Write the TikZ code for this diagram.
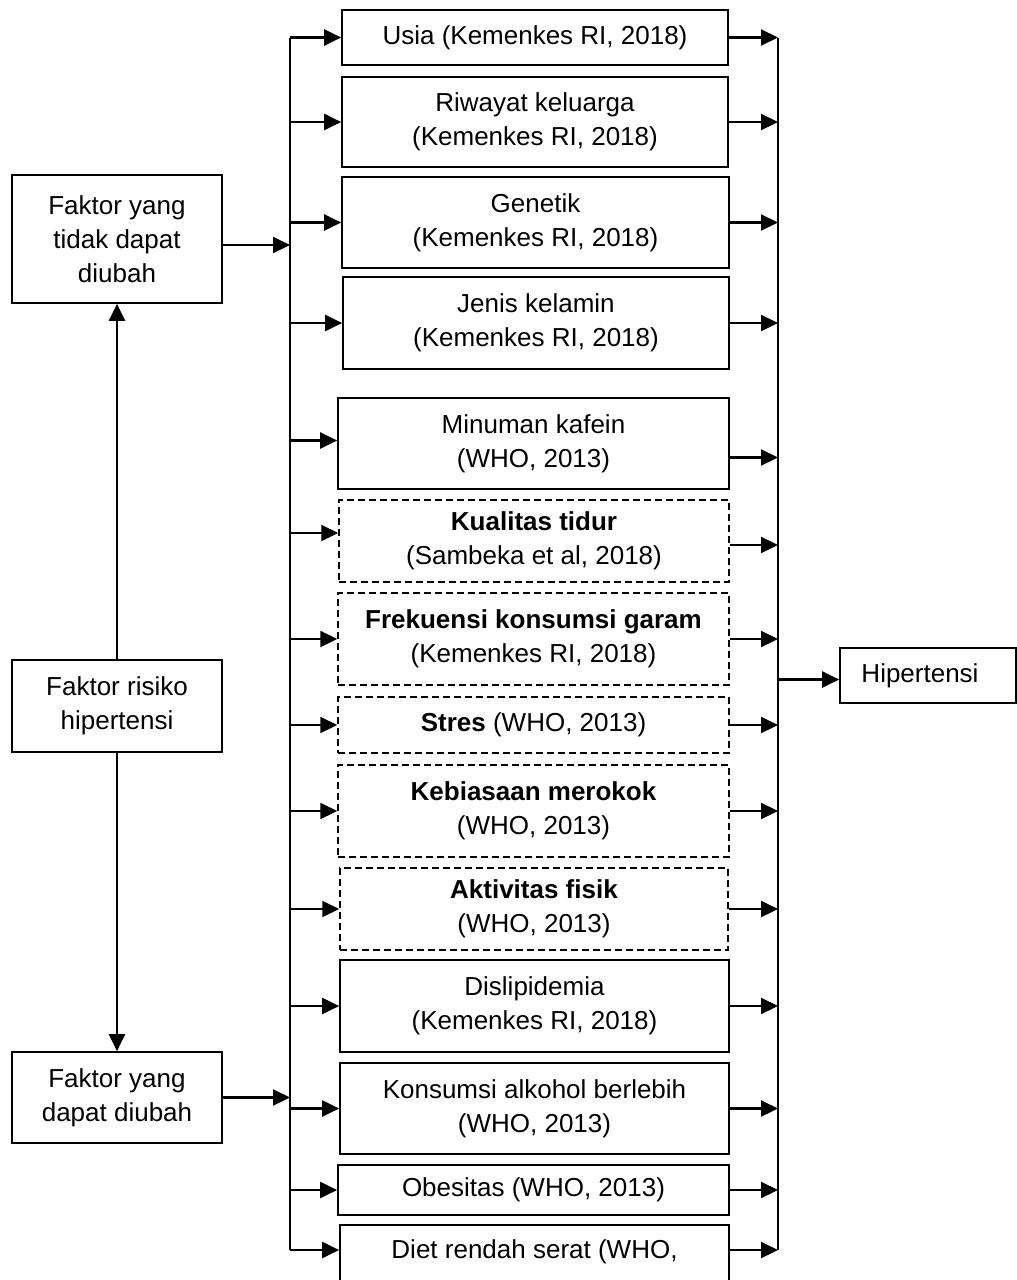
\documentclass[tikz,border=0pt]{standalone}
\usepackage{fontspec}
\setmainfont{Liberation Sans}
\usetikzlibrary{arrows.meta}
\begin{document}
\begin{tikzpicture}[x=1pt,y=-1pt,
  box/.style={draw, line width=1.7pt, rectangle, inner sep=0pt, align=center,
    font=\fontsize{26}{34}\selectfont},
  dbox/.style={box, line width=1.5pt, dash pattern=on 7pt off 4pt},
  arr/.style={line width=2.2pt, -{Triangle[length=17pt,width=16pt]}},
  bus/.style={line width=2.4pt}]
\useasboundingbox (0,0) rectangle (1017,1280);
\clip (0,0) rectangle (1017,1280);
\coordinate (L) at (290,0);
\coordinate (R) at (778,0);
% middle column
\node[box, minimum width=386, minimum height=55] (n1) at (535,37.5) {Usia (Kemenkes RI, 2018)};
\node[box, minimum width=386, minimum height=90] (n2) at (535,122) {Riwayat keluarga\\(Kemenkes RI, 2018)};
\node[box, minimum width=387, minimum height=91] (n3) at (535.5,222.5) {Genetik\\(Kemenkes RI, 2018)};
\node[box, minimum width=386, minimum height=92] (n4) at (536,323) {Jenis kelamin\\(Kemenkes RI, 2018)};
\node[box, minimum width=391, minimum height=91] (n5) at (533.5,443.5) {Minuman kafein\\(WHO, 2013)};
\node[dbox, minimum width=390, minimum height=82] (n6) at (534,541) {\textbf{Kualitas tidur}\\(Sambeka et al, 2018)};
\node[dbox, minimum width=391, minimum height=92] (n7) at (533.5,639) {\textbf{Frekuensi konsumsi garam}\\(Kemenkes RI, 2018)};
\node[dbox, minimum width=391, minimum height=56] (n8) at (533.5,725) {\textbf{Stres} (WHO, 2013)};
\node[dbox, minimum width=391, minimum height=92] (n9) at (533.5,811) {\textbf{Kebiasaan merokok}\\(WHO, 2013)};
\node[dbox, minimum width=388, minimum height=82] (n10) at (534,909) {\textbf{Aktivitas fisik}\\(WHO, 2013)};
\node[box, minimum width=389, minimum height=92] (n11) at (534.5,1006) {Dislipidemia\\(Kemenkes RI, 2018)};
\node[box, minimum width=389, minimum height=91] (n12) at (534.5,1108.5) {Konsumsi alkohol berlebih\\(WHO, 2013)};
\node[box, minimum width=391, minimum height=50] (n13) at (533.5,1190) {Obesitas (WHO, 2013)};
\node[box, minimum width=389, minimum height=92] (n14) at (534.5,1271) {Diet rendah serat (WHO,\\\strut};
% left column
\node[box, minimum width=210, minimum height=128] (a1) at (117,239) {Faktor yang\\tidak dapat\\diubah};
\node[box, minimum width=210, minimum height=92] (a2) at (117,706) {Faktor risiko\\hipertensi};
\node[box, minimum width=210, minimum height=91] (a3) at (117,1097.5) {Faktor yang\\dapat diubah};
% right
\node[box, minimum width=176, minimum height=55] (hip) at (928,675.5) {Hipertensi\hspace*{16pt}};
% buses
\coordinate (ltop) at (290,37.5);
\coordinate (lbot) at (290,1250);
\coordinate (rtop) at (778,37.5);
\coordinate (rbot) at (778,1250);
\draw[bus] (ltop) -- (lbot);
\draw[bus] (rtop) -- (rbot);
% arrows bus -> boxes -> bus
\foreach \n in {n1,n2,n3,n4,n7,n8,n9,n10,n11,n12,n13}{
  \draw[arr] (L |- \n.west) -- (\n.west);
  \draw[arr] (\n.east) -- (R |- \n.east);
}
\draw[arr] (L |- n5.west) ++(0,-3) -- ([yshift=3pt]n5.west);
\draw[arr] ([yshift=-14pt]n5.east) -- ([yshift=-14pt]R |- n5.east);
\draw[arr] (L |- n6.west) ++(0,-8) -- ([yshift=8pt]n6.west);
\draw[arr] ([yshift=-4pt]n6.east) -- ([yshift=-4pt]R |- n6.east);
\draw[arr] (lbot) -- ([yshift=21pt]n14.west);
\draw[arr] ([yshift=21pt]n14.east) -- (rbot);
% left column connectors
\draw[arr] ([yshift=-6pt]a1.east) -- ([yshift=-6pt]L |- a1.east);
\draw[arr] (a3.east) -- (L |- a3.east);
\draw[arr] (a2.north) -- (a1.south);
\draw[arr] (a2.south) -- (a3.north);
\draw[arr] (R |- hip.west) ++(0,4) -- ([yshift=-4pt]hip.west);
\end{tikzpicture}
\end{document}
